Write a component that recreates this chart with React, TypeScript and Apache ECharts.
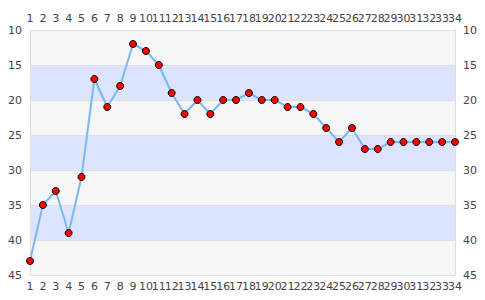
import React, { useEffect, useRef } from "react";
import * as echarts from "echarts";

const categories = Array.from({ length: 34 }, (_, i) => String(i + 1));
const positions = [43, 35, 33, 39, 31, 17, 21, 18, 12, 13, 15, 19, 22, 20, 22, 20, 20, 19, 20, 20, 21, 21, 22, 24, 26, 24, 27, 27, 26, 26, 26, 26, 26, 26];
const yMin = 10;
const yMax = 45;
const yInterval = 5;

export default function App() {
  const ref = useRef<HTMLDivElement>(null);
  useEffect(() => {
    if (!ref.current) return;
    const chart = echarts.init(ref.current, undefined, { renderer: "svg" });
    const labelStyle = { color: "#444", fontFamily: "DejaVu Sans", fontSize: 11 };
    const xAxisBase = {
      type: "category" as const,
      data: categories,
      boundaryGap: false,
      axisLine: { show: false },
      axisTick: { show: false },
      axisLabel: { ...labelStyle, interval: 0, margin: 6 },
      splitLine: { show: false },
    };
    const yAxisBase = {
      type: "value" as const,
      inverse: true,
      min: yMin,
      max: yMax,
      interval: yInterval,
      axisTick: { show: false },
      axisLine: { show: true, lineStyle: { color: "#ddd" } },
      axisLabel: { ...labelStyle, margin: 8 },
    };
    chart.setOption({
      animation: false,
      backgroundColor: "#fff",
      grid: { left: 30, right: 30, top: 30, bottom: 25, containLabel: false },
      xAxis: [
        { ...xAxisBase, position: "bottom" },
        { ...xAxisBase, position: "top" },
      ],
      yAxis: [
        {
          ...yAxisBase,
          position: "left",
          splitLine: { show: true, lineStyle: { color: "#ddd" } },
          splitArea: { show: true, areaStyle: { color: ["#f6f6f6", "#dde4ff"] } },
        },
        { ...yAxisBase, position: "right", splitLine: { show: false }, splitArea: { show: false } },
      ],
      series: [
        {
          type: "line",
          data: positions,
          symbol: "circle",
          symbolSize: 7,
          lineStyle: { color: "#7ab8f5", width: 2 },
          itemStyle: { color: "#ff0000", borderColor: "#000", borderWidth: 1 },
        },
      ],
    });
    return () => chart.dispose();
  }, []);
  return <div ref={ref} style={{ width: 485, height: 300, position: "absolute", left: 0, top: 0 }} />;
}
